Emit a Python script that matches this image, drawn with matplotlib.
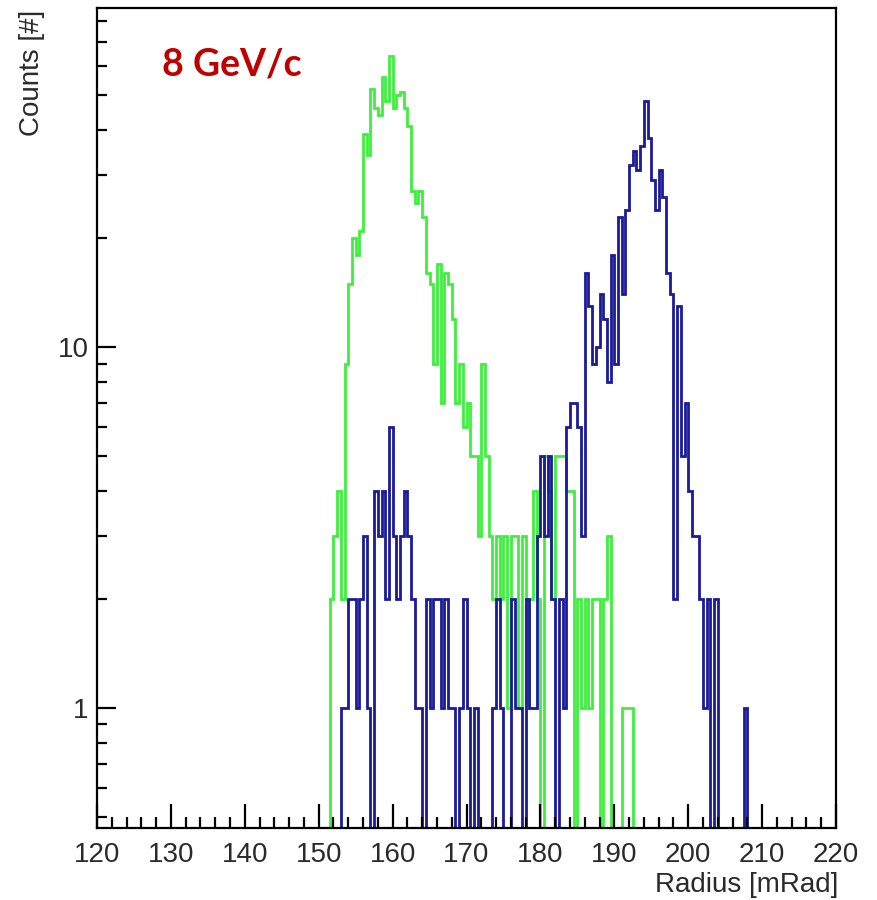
import numpy as np
import matplotlib
matplotlib.use("Agg")
from matplotlib import pyplot
from matplotlib import ticker

# histogram binning (mRad)
bin_lo = 120.0
bin_hi = 220.0
bin_width = 0.5

# green histogram, counts per 0.5 mRad bin starting at 151.5
green_start = 151.5
green_counts = [2, 3, 4, 2, 9, 15, 20, 18, 21, 39,
                34, 52, 46, 44, 56, 48, 64, 46, 50, 51,
                46, 41, 27, 25, 27, 23, 16, 15, 9, 17,
                7, 16, 15, 12, 7, 9, 6, 7, 5, 5,
                3, 9, 5, 3, 2, 3, 2, 3, 1, 3,
                3, 1, 3, 1, 2, 4, 2, 0, 5, 4,
                2, 5, 5, 5, 4, 4, 0, 2, 1, 2,
                1, 2, 2, 0, 2, 3, 0, 0, 0, 1,
                1, 1]

# blue histogram, counts per 0.5 mRad bin starting at 153.0
blue_start = 153.0
blue_counts = [1, 1, 2, 2, 1, 2, 3, 1, 0, 4,
               3, 4, 2, 6, 3, 2, 3, 4, 3, 2,
               1, 1, 0, 2, 1, 2, 2, 1, 2, 1,
               1, 0, 1, 2, 1, 0, 1, 0, 0, 0,
               0, 1, 2, 1, 0, 0, 2, 1, 1, 0,
               2, 1, 1, 3, 5, 3, 5, 2, 0, 2,
               1, 6, 7, 7, 6, 3, 16, 13, 9, 10,
               14, 12, 8, 18, 9, 23, 14, 24, 32, 35,
               31, 36, 48, 38, 29, 24, 31, 26, 16, 14,
               2, 13, 5, 7, 4, 3, 3, 2, 1, 2,
               0, 2, 0, 0, 0, 0, 0, 0, 0, 1]

x_ticks = [120, 130, 140, 150, 160, 170, 180, 190, 200, 210, 220]
y_min = 0.465
y_max = 87.0

green_color = "#3cf03c"
blue_color = "#1a1a9a"
label_color = "#2a2a2a"


def full_hist(start, counts):
    edges = np.arange(bin_lo, bin_hi + bin_width / 2, bin_width)
    vals = np.zeros(len(edges) - 1)
    i0 = int(round((start - bin_lo) / bin_width))
    vals[i0:i0 + len(counts)] = counts
    # empty bins are drawn down to the frame like ROOT does
    vals = np.where(vals > 0, vals, y_min)
    return edges, vals


if __name__ == '__main__':
    fig = pyplot.figure(figsize=(8.77, 9.0), dpi=100, facecolor='w')
    ax = fig.add_axes([97 / 877, 72 / 900, (836 - 97) / 877, (828 - 8) / 900])

    e, v = full_hist(green_start, green_counts)
    ax.stairs(v, e, baseline=None, color=green_color, linewidth=2.0)
    e, v = full_hist(blue_start, blue_counts)
    ax.stairs(v, e, baseline=None, color=blue_color, linewidth=2.0)

    ax.set_yscale('log')
    ax.set_xlim(bin_lo, bin_hi)
    ax.set_ylim(y_min, y_max)

    ax.set_xticks(x_ticks)
    ax.xaxis.set_minor_locator(ticker.MultipleLocator(2))
    ax.yaxis.set_major_locator(ticker.FixedLocator([1, 10]))
    ax.yaxis.set_major_formatter(ticker.FixedFormatter(["1", "10"]))
    ax.yaxis.set_minor_locator(ticker.LogLocator(base=10, subs=np.arange(2, 10)))
    ax.yaxis.set_minor_formatter(ticker.NullFormatter())

    ax.tick_params(axis='both', which='both', direction='in', top=False, right=False,
                   colors='black', labelcolor=label_color, width=1.6)
    ax.tick_params(axis='x', which='major', length=17, pad=10, labelsize=20)
    ax.tick_params(axis='x', which='minor', length=8)
    ax.tick_params(axis='y', which='major', length=14, pad=6, labelsize=20)
    ax.tick_params(axis='y', which='minor', length=7)
    for lab in ax.get_xticklabels() + ax.get_yticklabels():
        lab.set_family(['Liberation Sans', 'DejaVu Sans'])
    for sp in ax.spines.values():
        sp.set_linewidth(1.6)

    fig.text(32 / 877, 1 - 10 / 900, "Counts [#]", rotation=90, ha='center', va='top',
             fontsize=20, color=label_color, family=['Liberation Sans', 'DejaVu Sans'])
    fig.text(838 / 877, 1 - 885 / 900, "Radius [mRad]", ha='right', va='center',
             fontsize=20, color=label_color, family=['Liberation Sans', 'DejaVu Sans'])
    fig.text(162 / 877, 1 - 76 / 900, "8 GeV/c", ha='left', va='baseline',
             fontsize=27, fontweight='bold', color='#c00000', family=['Lato', 'DejaVu Sans'])

    pyplot.savefig("out.png", dpi=100)
